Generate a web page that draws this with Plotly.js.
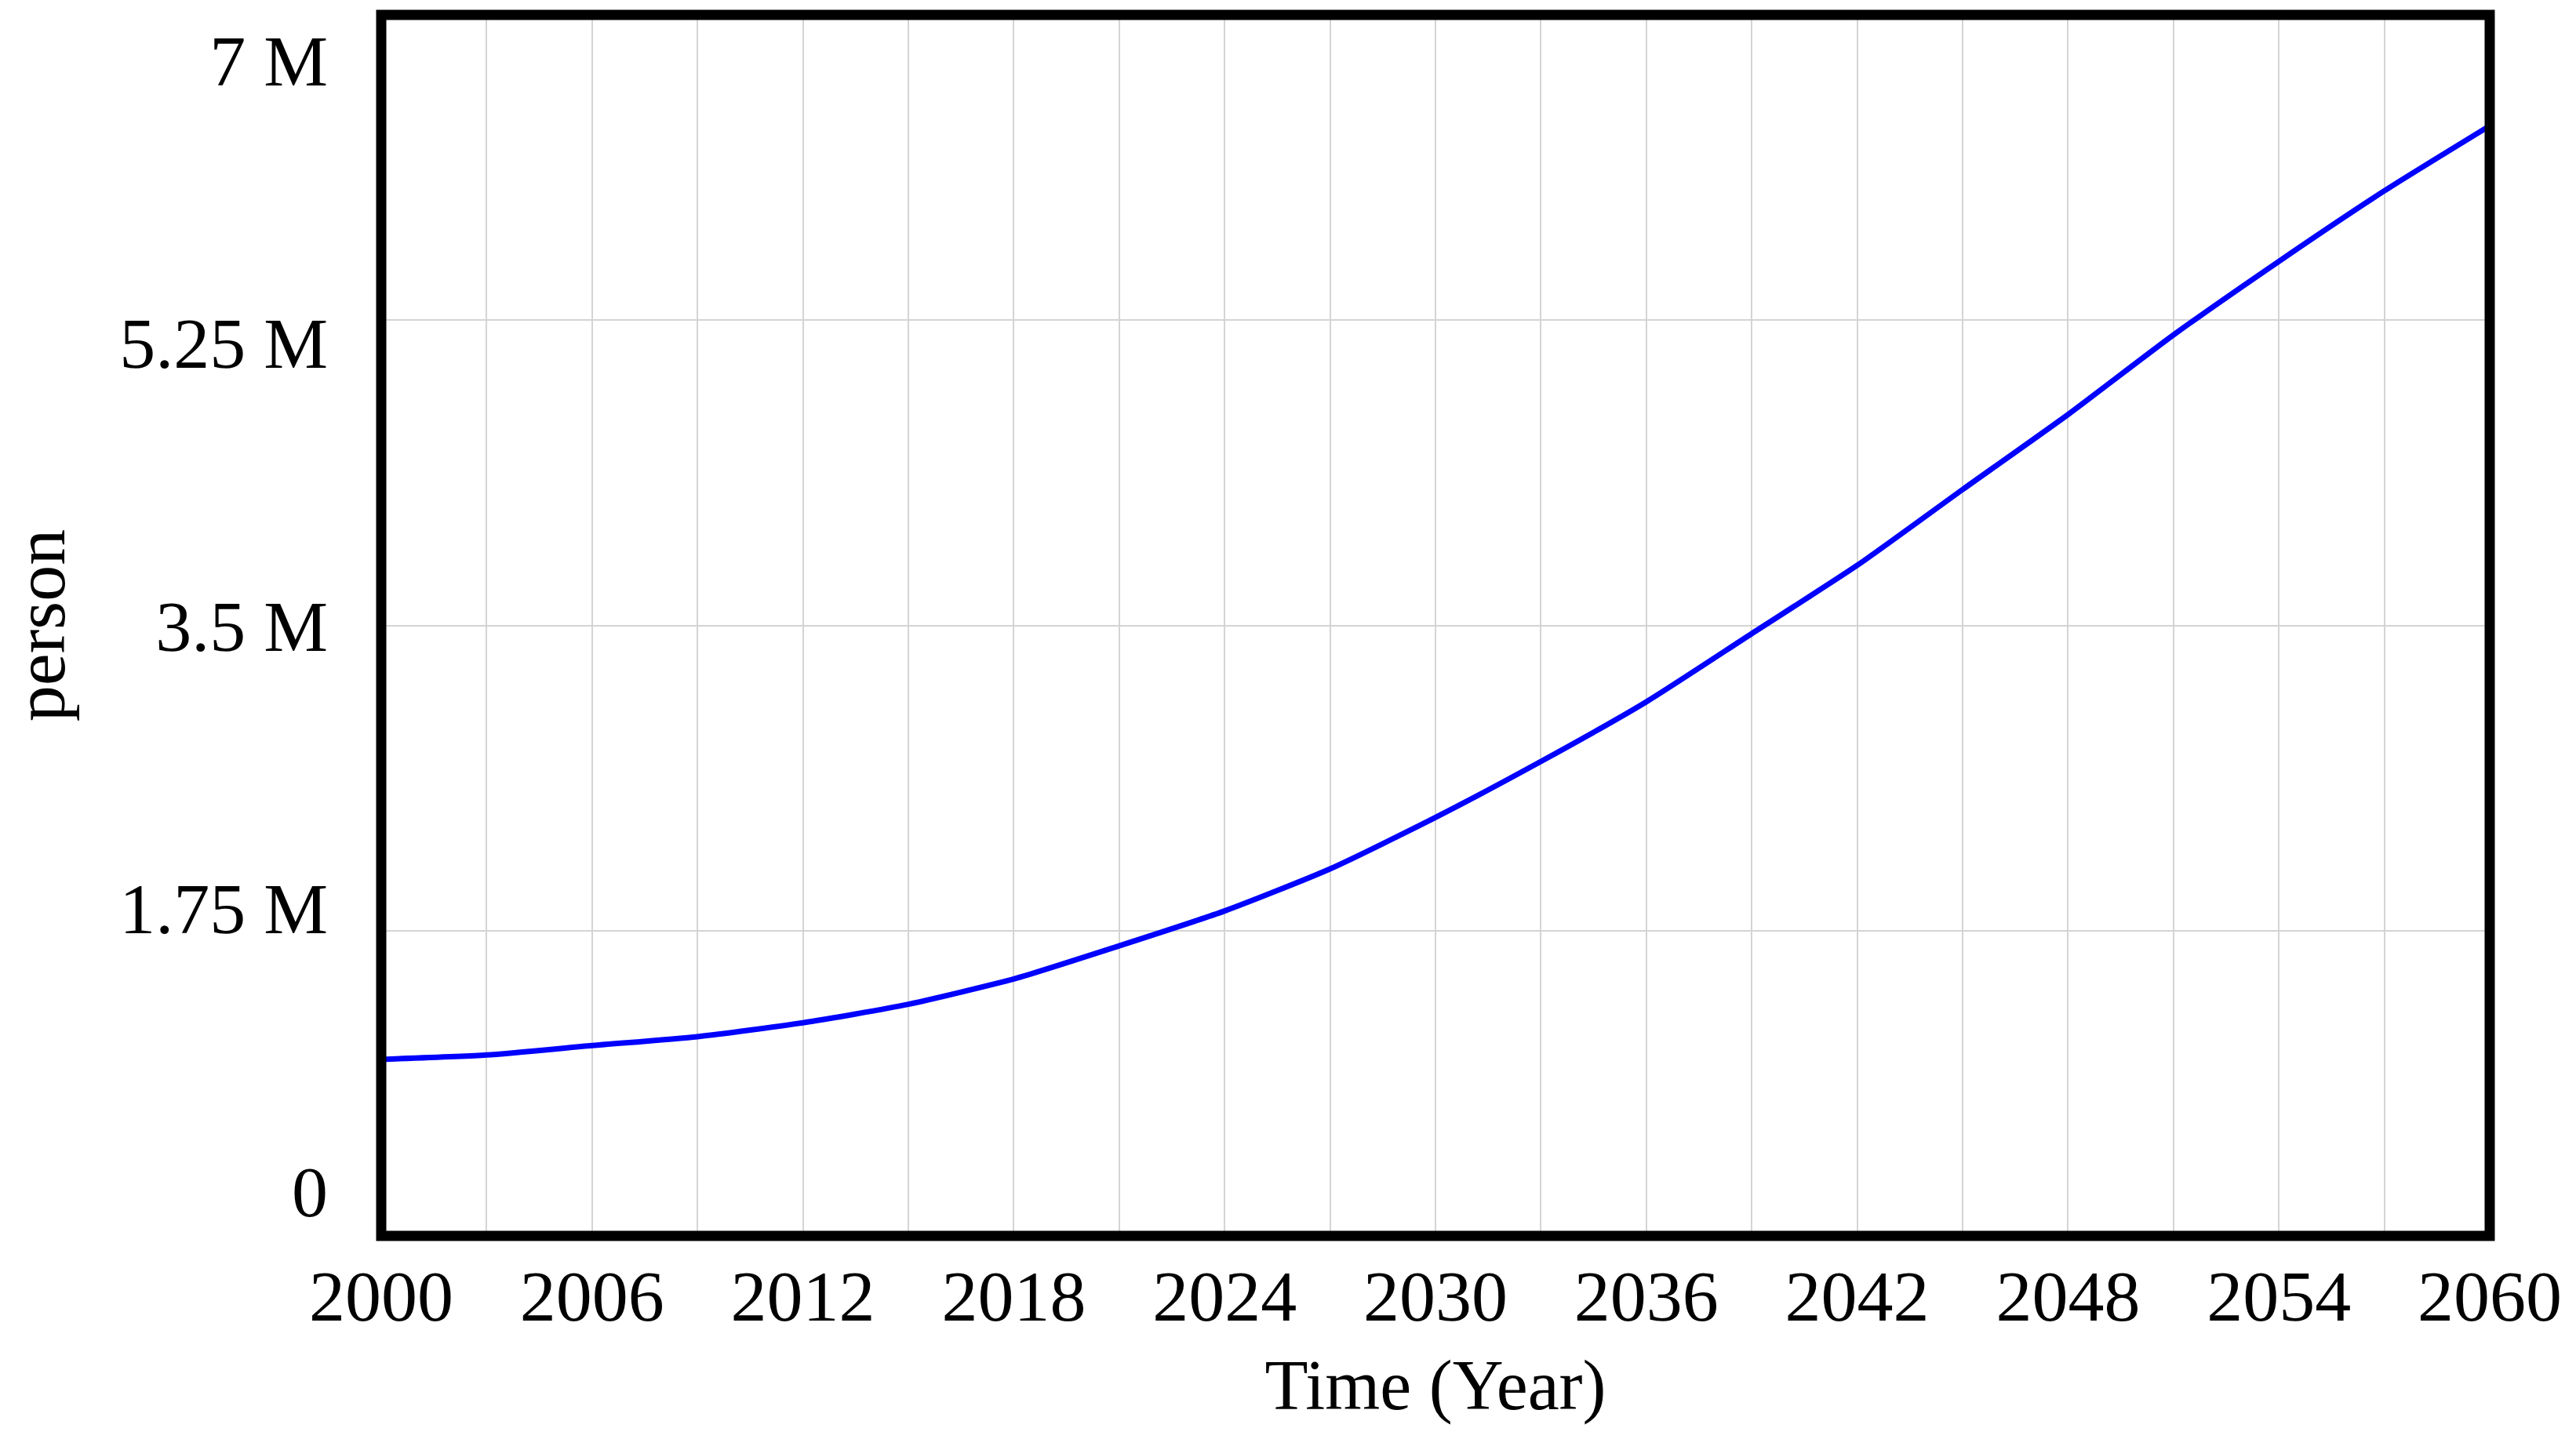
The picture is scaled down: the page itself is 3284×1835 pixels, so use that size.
<!DOCTYPE html>
<html>
<head>
<meta charset="utf-8">
<script src="https://cdn.plot.ly/plotly-3.0.1.min.js"></script>
<style>
  html, body { margin: 0; padding: 0; background: #ffffff; }
  #plot { width: 3284px; height: 1835px; }
</style>
</head>
<body>
<div id="plot"></div>
<script>
// population run, every 3 years
var years = [2000, 2003, 2006, 2009, 2012, 2015, 2018, 2021, 2024, 2027, 2030,
             2033, 2036, 2039, 2042, 2045, 2048, 2051, 2054, 2057, 2060];
var persons = [1.012e6, 1.037e6, 1.091e6, 1.142e6, 1.222e6, 1.328e6, 1.473e6,
               1.663e6, 1.863e6, 2.104e6, 2.399e6, 2.720e6, 3.062e6, 3.453e6,
               3.844e6, 4.279e6, 4.709e6, 5.165e6, 5.587e6, 5.991e6, 6.364e6];

// axis ticks
var xTickYears = [2000, 2006, 2012, 2018, 2024, 2030, 2036, 2042, 2048, 2054, 2060];
var yTickVals = [0, 1.75e6, 3.5e6, 5.25e6, 7e6];
var yTickText = ['0', '1.75 M', '3.5 M', '5.25 M', '7 M'];

var serif = 'Times New Roman, Liberation Serif, serif';

var tracePop = {
  x: years,
  y: persons,
  type: 'scatter',
  mode: 'lines',
  name: 'person',
  line: { color: 'rgb(0,0,255)', width: 7, shape: 'spline', smoothing: 0.6 },
  hoverinfo: 'x+y'
};

// empty helper so the label axis gets drawn
var traceLabels = {
  x: [xTickYears[0]],
  y: [yTickVals[0]],
  yaxis: 'y2',
  type: 'scatter',
  mode: 'markers',
  marker: { opacity: 0 },
  hoverinfo: 'skip',
  showlegend: false
};

var layout = {
  width: 3284,
  height: 1835,
  paper_bgcolor: '#ffffff',
  plot_bgcolor: '#ffffff',
  showlegend: false,
  margin: { l: 486, r: 110, t: 19, b: 259 },
  font: { family: serif, color: '#000000', size: 92 },
  xaxis: {
    range: [2000, 2060],
    tickmode: 'array',
    tickvals: xTickYears,
    ticks: '',
    ticklabelstandoff: 15,
    tickfont: { family: serif, size: 92, color: '#000000' },
    showgrid: true,
    gridcolor: '#d4d4d4',
    gridwidth: 2,
    minor: { tick0: 2000, dtick: 3, showgrid: true, gridcolor: '#d4d4d4', gridwidth: 2 },
    zeroline: false,
    showline: false,
    title: { text: 'Time (Year)', font: { family: serif, size: 90, color: '#000000' }, standoff: 30 }
  },
  yaxis: {
    range: [0, 7e6],
    tickmode: 'array',
    tickvals: yTickVals,
    showticklabels: false,
    ticks: '',
    showgrid: true,
    gridcolor: '#d4d4d4',
    gridwidth: 2,
    zeroline: false,
    showline: false,
    title: { text: 'person', font: { family: serif, size: 92, color: '#000000' }, standoff: 385 }
  },
  // label axis: Vensim spreads its value labels inside the box
  yaxis2: {
    overlaying: 'y',
    anchor: 'x',
    side: 'left',
    range: [-0.28e6, 7.28e6],
    tickmode: 'array',
    tickvals: yTickVals,
    ticktext: yTickText,
    ticks: '',
    ticklabelstandoff: 67,
    tickfont: { family: serif, size: 92, color: '#000000' },
    showgrid: false,
    zeroline: false,
    showline: false,
    fixedrange: true
  },
  shapes: [{
    type: 'rect', xref: 'paper', yref: 'paper',
    x0: 0, x1: 1, y0: 0, y1: 1,
    line: { color: '#000000', width: 13 },
    fillcolor: 'rgba(0,0,0,0)',
    layer: 'above'
  }]
};

Plotly.newPlot('plot', [tracePop, traceLabels], layout, { displayModeBar: false, staticPlot: true });
</script>
</body>
</html>
